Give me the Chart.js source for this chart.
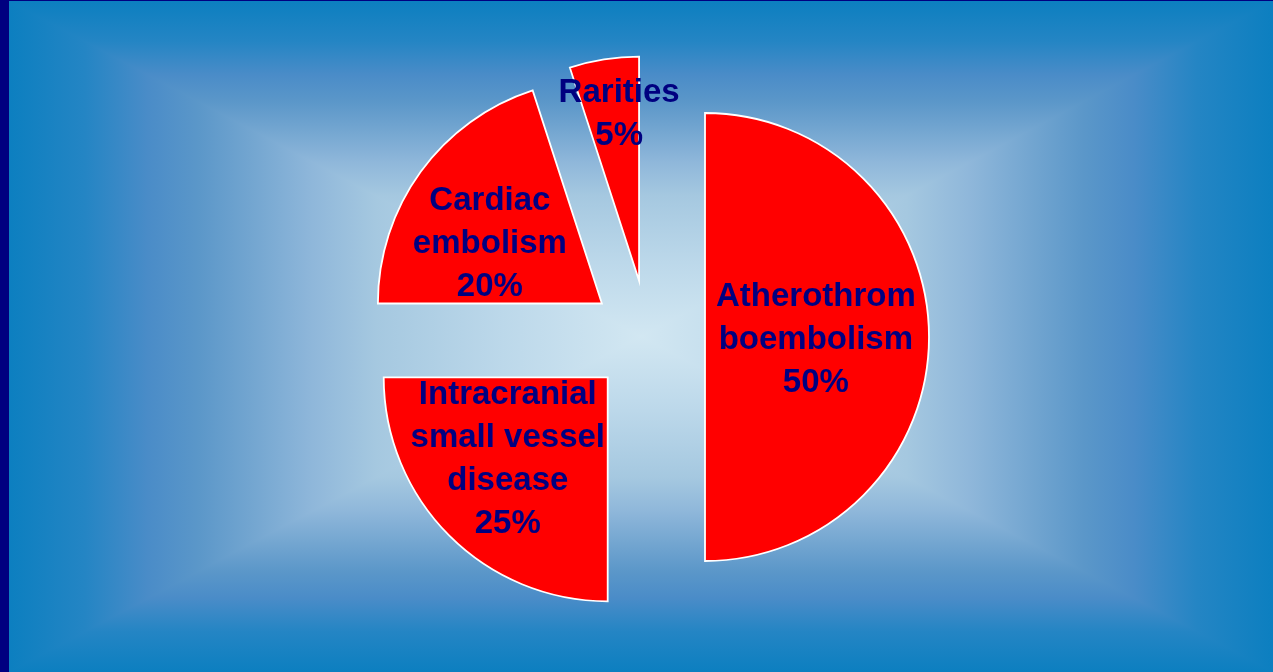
<!DOCTYPE html>
<html>
<head>
<meta charset="utf-8">
<script src="https://cdn.jsdelivr.net/npm/chart.js@4"></script>
<style>
body{margin:0;overflow:hidden;background:#000080}
#wrap{width:1273px;height:672px}
</style>
</head>
<body>
<div id="wrap"><canvas id="pie" width="1273" height="672"></canvas></div>
<script>
// slice names (already broken into lines) and their shares in %
const causes=[["Atherothrom","boembolism"],["Intracranial","small vessel","disease"],["Cardiac","embolism"],["Rarities"]];
const shares=[50,25,20,5];

// label anchor relative to each slice's own centre, in units of the radius
const labelNudge=[[0.495,0],[-0.446,0.353],[-0.5,-0.277],[-0.089,-0.754]];

// rectangle "from centre" fill: stops run edge -> middle
const bgStops=[[0,"#0c7fc0"],[0.12,"#2485c4"],[0.22,"#4a8cc8"],[0.30,"#5b97c9"],[0.38,"#72a5d0"],[0.48,"#8fb7da"],[0.58,"#a5c8e0"],[0.78,"#bcd8ea"],[1,"#d2e7f2"]];

const backdrop={
    id:"backdrop",
    beforeDraw(chart){
        const ctx=chart.ctx,W=chart.width,H=chart.height;
        const x0=9,y0=1,x1=W,y1=H,cx=(x0+x1)/2,cy=(y0+y1)/2;
        ctx.save();
        ctx.fillStyle="#000080";
        ctx.fillRect(0,0,W,H);
        const grad=(gx0,gy0)=>{
            const g=ctx.createLinearGradient(gx0,gy0,cx,cy);
            bgStops.forEach(s=>g.addColorStop(s[0],s[1]));
            return g;
        };
        // top and bottom halves first, then the side wedges over them (no seams)
        ctx.fillStyle=grad(cx,y0);
        ctx.fillRect(x0,y0,x1-x0,cy-y0+1);
        ctx.fillStyle=grad(cx,y1);
        ctx.fillRect(x0,cy,x1-x0,y1-cy);
        const wedge=(ex,sx)=>{
            ctx.beginPath();
            ctx.moveTo(ex,y0);
            ctx.lineTo(ex,y1);
            ctx.lineTo(cx,cy);
            ctx.closePath();
            ctx.fillStyle=grad(ex,cy);
            ctx.fill();
        };
        wedge(x0);
        wedge(x1);
        ctx.restore();
    }
};

// pull every slice away from the middle along its bisector
const explode={
    id:"explode",
    afterDatasetUpdate(chart,args){
        const d=chart.options.plugins.explode.distance;
        args.meta.data.forEach(a=>{
            const mid=(a.startAngle+a.endAngle)/2;
            a.x+=Math.cos(mid)*d;
            a.y+=Math.sin(mid)*d;
        });
    }
};

const sliceLabels={
    id:"sliceLabels",
    afterDatasetsDraw(chart){
        const ctx=chart.ctx,meta=chart.getDatasetMeta(0);
        const lh=43;
        ctx.save();
        ctx.font="bold 33px 'Liberation Sans', Arial, sans-serif";
        ctx.fillStyle="#000080";
        ctx.textAlign="center";
        ctx.textBaseline="alphabetic";
        meta.data.forEach((a,i)=>{
            const lines=causes[i].concat([shares[i]+"%"]);
            const r=a.outerRadius;
            const cx=a.x+labelNudge[i][0]*r,cy=a.y+labelNudge[i][1]*r;
            let y=cy-(lines.length-1)/2*lh+12;
            lines.forEach(t=>{ctx.fillText(t,cx,y);y+=lh;});
        });
        ctx.restore();
    }
};

new Chart(document.getElementById("pie"),{
    type:"pie",
    data:{labels:causes,datasets:[{data:shares,backgroundColor:"#ff0000",borderColor:"#ffffff",borderWidth:1.8,borderJoinStyle:"miter",hoverOffset:0}]},
    options:{
        responsive:false,
        animation:false,
        events:[],
        radius:224,
        layout:{padding:{left:200,right:177,top:2,bottom:0}},
        plugins:{legend:{display:false},tooltip:{enabled:false},explode:{distance:57}}
    },
    plugins:[backdrop,explode,sliceLabels]
});
</script>
</body>
</html>
